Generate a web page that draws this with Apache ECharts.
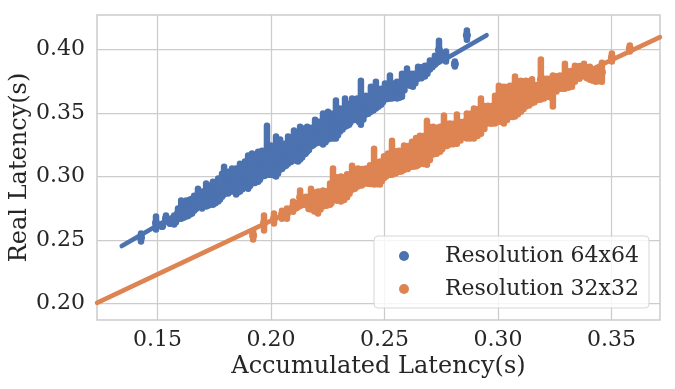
<!DOCTYPE html>
<html><head><meta charset="utf-8">
<script src="https://cdn.jsdelivr.net/npm/echarts@6/dist/echarts.min.js"></script>
<style>html,body{margin:0;padding:0;background:#fff}#c{width:675px;height:389px}</style>
</head><body><div id="c"></div>
<script>
const xTicks = [0.15,0.20,0.25,0.30,0.35];
const yTicks = [0.20,0.25,0.30,0.35,0.40];
const name64 = 'Resolution 64x64';
const name32 = 'Resolution 32x32';
const x64 = [.1427,.1493,.1520,.1537,.1555,.1573,.1590,.1604,.1626,.1643,.1661,.1678,.1696,.1714,.1731,.1744,.1767,.1784,.1793,.1811,.1828,.1846,.1863,.1885,.1899,.1916,.1943,.1960,.1982,.2000,.2022,.2040,.2057,.2075,.2101,.2119,.2128,.2145,.2159,.2176,.2194,.2211,.2229,.2251,.2264,.2286,.2304,.2326,.2344,.2357,.2379,.2396,.2418,.2440,.2462,.2485,.2502,.2524,.2542,.2555,.2577,.2599,.2625,.2648,.2678,.2700,.2722,.2740,.2753,.2771,.2810,.2863];
const hi64 = [.2551,.2685,.2614,.2693,.2638,.2693,.2748,.2811,.2811,.2819,.2850,.2905,.2882,.2945,.2929,.2960,.2984,.3023,.3078,.3039,.3063,.3063,.3102,.3118,.3165,.3181,.3196,.3204,.3401,.3244,.3315,.3291,.3259,.3315,.3362,.3338,.3393,.3378,.3393,.3385,.3448,.3432,.3496,.3511,.3496,.3598,.3535,.3614,.3574,.3614,.3614,.3755,.3637,.3708,.3747,.3692,.3732,.3795,.3732,.3747,.3810,.3850,.3810,.3865,.3873,.3913,.3952,.4070,.3968,.3984,.3905,.4149];
const lo64 = [.2488,.2583,.2606,.2646,.2630,.2622,.2669,.2669,.2685,.2701,.2732,.2779,.2748,.2764,.2779,.2779,.2803,.2842,.2858,.2866,.2905,.2858,.2882,.2921,.2905,.2945,.2960,.3000,.3015,.3015,.3000,.3055,.3078,.3102,.3134,.3118,.3134,.3173,.3196,.3236,.3259,.3275,.3252,.3291,.3299,.3299,.3354,.3393,.3409,.3448,.3456,.3409,.3488,.3511,.3535,.3566,.3606,.3614,.3621,.3614,.3629,.3732,.3708,.3771,.3787,.3842,.3881,.3921,.3944,.3905,.3866,.4078];
const x64b = [.1581,.1597,.1615,.1634,.1652,.1669,.1687,.1705,.1722,.1738,.1755,.1775,.1802,.1819,.1837,.1854,.1874,.1892,.1907,.1929,.1951,.1971,.1991,.2011,.2031,.2048,.2066,.2088,.2110,.2137,.2152,.2167,.2185,.2202,.2220,.2240,.2275,.2295,.2315,.2335,.2350,.2368,.2388,.2407,.2429,.2451,.2473,.2493,.2513,.2533,.2566,.2588,.2612,.2636,.2663,.2689,.2711];
const hi64b = [.2690,.2740,.2795,.2800,.2825,.2840,.2870,.2880,.2925,.2925,.2950,.2980,.3025,.3035,.3055,.3060,.3095,.3110,.3160,.3170,.3190,.3200,.3215,.3235,.3285,.3255,.3250,.3310,.3330,.3370,.3375,.3380,.3380,.3425,.3430,.3490,.3490,.3530,.3530,.3570,.3570,.3605,.3610,.3630,.3630,.3705,.3690,.3690,.3730,.3730,.3745,.3805,.3810,.3805,.3860,.3870,.3905];
const lo64b = [.2640,.2675,.2675,.2690,.2710,.2745,.2760,.2770,.2770,.2785,.2790,.2820,.2870,.2880,.2880,.2875,.2900,.2915,.2925,.2950,.2975,.3005,.3015,.3010,.3025,.3060,.3085,.3115,.3125,.3150,.3180,.3210,.3245,.3265,.3265,.3270,.3300,.3325,.3370,.3400,.3425,.3445,.3430,.3450,.3495,.3520,.3550,.3585,.3610,.3615,.3620,.3680,.3715,.3735,.3775,.3810,.3860];
const x32 = [.1921,.1969,.2013,.2048,.2070,.2097,.2128,.2154,.2176,.2207,.2229,.2260,.2273,.2308,.2335,.2357,.2383,.2418,.2436,.2454,.2480,.2498,.2515,.2533,.2564,.2586,.2621,.2639,.2656,.2687,.2714,.2745,.2762,.2788,.2819,.2850,.2863,.2894,.2925,.2956,.2987,.3004,.3026,.3053,.3075,.3101,.3123,.3150,.3172,.3189,.3216,.3242,.3273,.3295,.3326,.3339,.3379,.3405,.3431,.3458,.3502,.3581];
const hi32 = [.2567,.2693,.2709,.2732,.2748,.2803,.2890,.2842,.2905,.2882,.2890,.2945,.3063,.3000,.3019,.3086,.3063,.3063,.3090,.3220,.3118,.3161,.3181,.3283,.3204,.3244,.3275,.3303,.3322,.3440,.3393,.3393,.3480,.3417,.3488,.3432,.3496,.3535,.3614,.3558,.3637,.3716,.3708,.3716,.3787,.3755,.3755,.3767,.3720,.3921,.3771,.3795,.3795,.3889,.3834,.3873,.3889,.3865,.3834,.3897,.3968,.4031];
const lo32 = [.2504,.2575,.2630,.2669,.2669,.2724,.2779,.2779,.2740,.2709,.2764,.2779,.2819,.2803,.2838,.2897,.2921,.2945,.2941,.2937,.2937,.2988,.3015,.3015,.3039,.3051,.3078,.3082,.3102,.3094,.3173,.3196,.3236,.3252,.3259,.3315,.3299,.3299,.3338,.3417,.3417,.3448,.3417,.3472,.3472,.3511,.3551,.3578,.3602,.3606,.3629,.3551,.3692,.3692,.3708,.3747,.3787,.3763,.3747,.3747,.3905,.3984];
const x32b = [.2112,.2141,.2165,.2191,.2218,.2245,.2266,.2290,.2322,.2346,.2370,.2400,.2427,.2445,.2467,.2489,.2507,.2524,.2549,.2575,.2603,.2630,.2648,.2672,.2700,.2730,.2754,.2775,.2803,.2835,.2857,.2878,.2910,.2940,.2971,.2996,.3015,.3040,.3064,.3088,.3112,.3137,.3161,.3180,.3203,.3229,.3258,.3284,.3310,.3359,.3392,.3418,.3445];
const hi32b = [.2790,.2835,.2840,.2875,.2880,.2885,.2940,.2995,.2995,.3015,.3060,.3060,.3060,.3085,.3110,.3115,.3155,.3175,.3200,.3200,.3240,.3270,.3300,.3320,.3390,.3385,.3390,.3415,.3415,.3430,.3430,.3495,.3530,.3555,.3555,.3635,.3705,.3705,.3715,.3750,.3750,.3750,.3720,.3718,.3770,.3770,.3790,.3790,.3830,.3870,.3860,.3830,.3830];
const lo32b = [.2750,.2780,.2745,.2725,.2740,.2770,.2790,.2810,.2815,.2865,.2905,.2930,.2945,.2945,.2940,.2965,.3000,.3015,.3025,.3040,.3060,.3080,.3090,.3100,.3130,.3180,.3215,.3240,.3255,.3285,.3305,.3300,.3320,.3375,.3415,.3430,.3430,.3445,.3470,.3490,.3530,.3560,.3585,.3604,.3615,.3625,.3670,.3692,.3700,.3770,.3775,.3755,.3750];
const fit64X = [.1342,.2950];
const fit64Y = [.2453,.4113];
const fit32X = [.1233,.3714];
const fit32Y = [.2006,.4098];

const BLUE = '#4C72B0', ORANGE = '#DD8452', TEXT = '#262626', GRID = '#cccccc';
const FONT = '"DejaVu Serif", serif';

function columns(xs, lows, highs){ return xs.map((x,i)=>[x,lows[i],highs[i]]); }
function pairs(xs, ys){ return xs.map((x,i)=>[x,ys[i]]); }
function renderColumn(color){
  return function(params, api){
    const a = api.coord([api.value(0), api.value(1)]);
    const b = api.coord([api.value(0), api.value(2)]);
    return {type:'group', children:[
      {type:'line', shape:{x1:a[0],y1:a[1],x2:b[0],y2:b[1]}, style:{stroke:color,lineWidth:6.5,lineCap:'round'}},
      {type:'circle', shape:{cx:a[0],cy:(a[1]+b[1])/2,r:4}, style:{fill:color}}
    ]};
  };
}
function fitSeries(name, xs, ys, color, z){
  return {name, type:'line', data:pairs(xs,ys), showSymbol:false, symbol:'none', z,
    lineStyle:{color, width:4.5, cap:'round'}, itemStyle:{color}, clip:true, silent:true};
}
const chart = echarts.init(document.getElementById('c'), null, {renderer:'canvas'});
chart.setOption({
  animation:false,
  backgroundColor:'#fff',
  textStyle:{fontFamily:FONT},
  grid:{left:97, right:15, top:15, bottom:69, outerBoundsMode:'none', show:true, borderColor:GRID, borderWidth:1.5, backgroundColor:'transparent'},
  legend:{
    data:[{name:name64, icon:'circle'},{name:name32, icon:'circle'}],
    orient:'vertical', left:374, top:236, padding:[9,10,8,25],
    itemWidth:10, itemHeight:10, itemGap:11, selectedMode:false,
    backgroundColor:'rgba(255,255,255,0.8)', borderColor:'rgba(204,204,204,0.8)', borderWidth:1, borderRadius:4,
    textStyle:{fontFamily:FONT, fontSize:22, color:TEXT, padding:[0,0,0,31]}
  },
  xAxis:{
    type:'value', min:.1233, max:.3714, name:'Accumulated Latency(s)', nameLocation:'middle', nameGap:35, nameMoveOverlap:false,
    nameTextStyle:{fontFamily:FONT, fontSize:24, color:TEXT},
    axisLine:{show:false}, axisTick:{show:false, customValues:xTicks},
    axisLabel:{customValues:xTicks, formatter:v=>v.toFixed(2), fontFamily:FONT, fontSize:22, color:TEXT, margin:9},
    splitLine:{show:true, lineStyle:{color:GRID, width:1.25}}
  },
  yAxis:{
    type:'value', min:.1871, max:.4272, name:'Real Latency(s)', nameLocation:'middle', nameGap:65, nameMoveOverlap:false,
    nameTextStyle:{fontFamily:FONT, fontSize:24, color:TEXT},
    axisLine:{show:false}, axisTick:{show:false, customValues:yTicks},
    axisLabel:{customValues:yTicks, formatter:v=>v.toFixed(2), fontFamily:FONT, fontSize:22, color:TEXT, margin:12},
    splitLine:{show:true, lineStyle:{color:GRID, width:1.25}}
  },
  series:[
    {name:name64, type:'custom', data:columns(x64.concat(x64b),lo64.concat(lo64b),hi64.concat(hi64b)), encode:{x:0,y:[1,2]}, renderItem:renderColumn(BLUE), itemStyle:{color:BLUE}, z:3, silent:true},
    fitSeries('Fit 64x64', fit64X, fit64Y, BLUE, 4),
    {name:name32, type:'custom', data:columns(x32.concat(x32b),lo32.concat(lo32b),hi32.concat(hi32b)), encode:{x:0,y:[1,2]}, renderItem:renderColumn(ORANGE), itemStyle:{color:ORANGE}, z:3, silent:true},
    fitSeries('Fit 32x32', fit32X, fit32Y, ORANGE, 4)
  ]
});
</script></body></html>
